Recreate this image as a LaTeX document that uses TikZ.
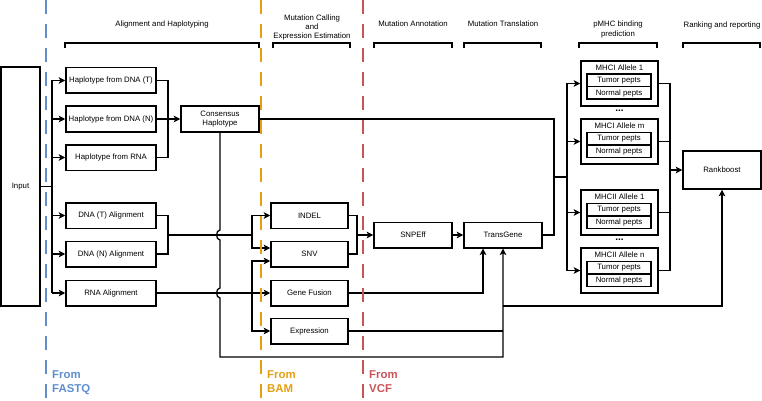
\documentclass[tikz,border=0pt]{standalone}
\usepackage{fontspec}
\setmainfont{Liberation Sans}
\usepackage{tikz}
\usetikzlibrary{arrows.meta,%
                positioning}
\definecolor{fastq}{RGB}{95,142,205}
\definecolor{bam}{RGB}{228,160,20}
\definecolor{vcf}{RGB}{200,84,88}

\begin{document}
\begin{tikzpicture}[x=1pt,y=-1pt,
  every node/.style={font=\fontsize{7.8}{9.2}\selectfont},
  stage/.style={draw,line width=1.5pt,minimum width=78pt,minimum height=25.5pt,inner sep=1pt,align=center},
  pept/.style={draw,line width=1.5pt,minimum width=64pt,minimum height=12.5pt,inner sep=0pt,outer sep=0pt},
  wire/.style={line width=1.3pt},
  feed/.style={wire,-{Stealth[length=6.5pt,width=6.5pt,inset=1.5pt]}},
  bracket/.style={line width=1.4pt},
  divide/.style={line width=2.6pt,dash pattern=on 14pt off 10pt},
  fromtext/.style={anchor=north west,inner sep=0pt,align=left,font=\fontsize{11.4}{14}\selectfont\bfseries}]
\useasboundingbox (0,0) rectangle (762,401);

\node (hAlign) at (162,24) {Alignment and Haplotyping};
\node[align=center] (hCall) at (312,27.5) {Mutation Calling\\and\\Expression Estimation};
\node (hAnno) at (413,24) {Mutation Annotation};
\node (hTrans) at (503,24) {Mutation Translation};
\node[align=center] (hBind) at (618,29.5) {pMHC binding\\prediction};
\node (hRank) at (722,25) {Ranking and reporting};
\draw[bracket] (65,48) -- (65,43) -- (259,43) -- (259,48);
\draw[bracket] (273,48) -- (273,43) -- (350,43) -- (350,48);
\draw[bracket] (374,48) -- (374,43) -- (452,43) -- (452,48);
\draw[bracket] (464,48) -- (464,43) -- (541,43) -- (541,48);
\draw[bracket] (579,48) -- (579,43) -- (657,43) -- (657,48);
\draw[bracket] (683,48) -- (683,43) -- (760,43) -- (760,48);

\node[stage,minimum width=39pt,minimum height=239pt] (input) at (20.5,186.5) {Input};
\node[stage,minimum width=90pt] (hapT) at (111,80.5) {Haplotype from DNA (T)};
\node[stage,minimum width=90pt] (hapN) at (111,119) {Haplotype from DNA (N)};
\node[stage,minimum width=90pt] (hapR) at (111,157.5) {Haplotype from RNA};
\node[stage,minimum width=90pt] (dnaT) at (111,215.5) {DNA (T) Alignment};
\node[stage,minimum width=90pt] (dnaN) at (111,254) {DNA (N) Alignment};
\node[stage,minimum width=90pt] (rnaA) at (111,293) {RNA Alignment};
\node[stage] (consensus) at (220,119) {Consensus\\Haplotype};
\node[stage,minimum width=77pt] (indel) at (309.5,215.5) {INDEL};
\node[stage,minimum width=77pt] (snv) at (309.5,254) {SNV};
\node[stage,minimum width=77pt] (fusion) at (309.5,293) {Gene Fusion};
\node[stage,minimum width=77pt] (expr) at (309.5,331) {Expression};
\node[stage] (snpeff) at (413,235) {SNPEff};
\node[stage] (transgene) at (503,235) {TransGene};
\node[stage,minimum height=38pt] (rankboost) at (722,170) {Rankboost};

\node[stage,minimum width=77pt,minimum height=45pt] (mhcA) at (619.5,83.5) {};
\node[inner sep=0pt] (mhcAt) at (619.5,68) {MHCI Allele 1};
\node[pept] (mhcAtum) at (619,80.5) {Tumor pepts};
\node[pept,below=0pt of mhcAtum] (mhcAnor) {Normal pepts};
\node[font=\fontsize{10}{10}\selectfont\bfseries] (dotsI) at (619.5,110.5) {...};
\node[stage,minimum width=77pt,minimum height=45pt] (mhcB) at (619.5,141.5) {};
\node[inner sep=0pt] (mhcBt) at (619.5,126) {MHCI Allele m};
\node[pept] (mhcBtum) at (619,138.5) {Tumor pepts};
\node[pept,below=0pt of mhcBtum] (mhcBnor) {Normal pepts};
\node[stage,minimum width=77pt,minimum height=45pt] (mhcC) at (619.5,212.5) {};
\node[inner sep=0pt] (mhcCt) at (619.5,197) {MHCII Allele 1};
\node[pept] (mhcCtum) at (619,209.5) {Tumor pepts};
\node[pept,below=0pt of mhcCtum] (mhcCnor) {Normal pepts};
\node[font=\fontsize{10}{10}\selectfont\bfseries] (dotsII) at (619.5,239.5) {...};
\node[stage,minimum width=77pt,minimum height=45pt] (mhcD) at (619.5,270.5) {};
\node[inner sep=0pt] (mhcDt) at (619.5,255) {MHCII Allele n};
\node[pept] (mhcDtum) at (619,267.5) {Tumor pepts};
\node[pept,below=0pt of mhcDtum] (mhcDnor) {Normal pepts};

\coordinate (inbus) at (52,186.5);
\coordinate (hapbus) at (168,119);
\coordinate (dnabus) at (168,235);
\coordinate (callbus) at (252,235);
\coordinate (rnabus) at (252,293);
\coordinate (hopA) at (consensus.south |- dnabus);
\coordinate (hopB) at (consensus.south |- rnaA);
\coordinate (hapdown) at (220,357);
\coordinate (varbus) at (357,235);
\coordinate (rankjoin) at (503,306);
\coordinate (mhcjoin) at (554,177);
\coordinate (mhcbus) at (567,177);
\coordinate (rankbus) at (670,170);

\draw[wire] (input) -- (inbus);
\draw[wire] (inbus |- hapT) -- (inbus |- rnaA);
\draw[feed] (inbus |- hapT) -- (hapT);
\draw[feed] (inbus |- hapN) -- (hapN);
\draw[feed] (inbus |- hapR) -- (hapR);
\draw[feed] (inbus |- dnaT) -- (dnaT);
\draw[feed] (inbus |- dnaN) -- (dnaN);
\draw[feed] (inbus |- rnaA) -- (rnaA);

\draw[wire] (hapT) -| (hapbus);
\draw[wire] (hapR) -| (hapbus);
\draw[feed] (hapN) -- (consensus);

\draw[wire] (dnaT) -| (dnabus);
\draw[wire] (dnaN) -| (dnabus);
\draw[wire] (dnabus) -- (callbus);
\draw[feed] (callbus) |- (indel);
\draw[feed] (callbus) |- ([yshift=6pt]snv.west);
\draw[feed] (rnaA) -- (fusion);
\draw[feed] (rnabus) |- ([yshift=-7pt]snv.west);
\draw[feed] (rnabus) |- (expr);

\draw[feed] (consensus) -- ([yshift=5pt]hopA) .. controls +(-4.5,0) and +(-4.5,0) .. ([yshift=-5pt]hopA)
  -- ([yshift=5pt]hopB) .. controls +(-4.5,0) and +(-4.5,0) .. ([yshift=-5pt]hopB)
  -- (hapdown) -| (transgene);
\draw[wire] (expr) -- (expr -| transgene);
\draw[feed] (rankjoin) -| (rankboost);
\draw[feed] (fusion) -| ([xshift=-20pt]transgene.south);

\draw[wire] (indel) -| (varbus);
\draw[wire] (snv) -| (varbus);
\draw[feed] (varbus) -- (snpeff);
\draw[feed] (snpeff) -- (transgene);

\draw[wire] (consensus) -| (mhcjoin);
\draw[wire] (transgene) -| (mhcjoin);
\draw[wire] (mhcjoin) -- (mhcbus);
\draw[wire] (mhcbus |- mhcA) -- (mhcbus |- mhcD);
\draw[feed] (mhcbus |- mhcA) -- (mhcA);
\draw[feed] (mhcbus |- mhcB) -- (mhcB);
\draw[feed] (mhcbus |- mhcC) -- (mhcC);
\draw[feed] (mhcbus |- mhcD) -- (mhcD);
\draw[wire] (mhcA) -| (rankbus);
\draw[wire] (mhcB) -| (rankbus);
\draw[wire] (mhcC) -| (rankbus);
\draw[wire] (mhcD) -| (rankbus);
\draw[feed] (rankbus) -- (rankboost);

\draw[divide,fastq] (46,0) -- (46,401);
\draw[divide,bam] (261,0) -- (261,401);
\draw[divide,vcf] (363,0) -- (363,401);
\node[fromtext,text=fastq] (fFastq) at (52,370) {From\\FASTQ};
\node[fromtext,text=bam] (fBam) at (267,370) {From\\BAM};
\node[fromtext,text=vcf] (fVcf) at (369,370) {From\\VCF};
\end{tikzpicture}
\end{document}
